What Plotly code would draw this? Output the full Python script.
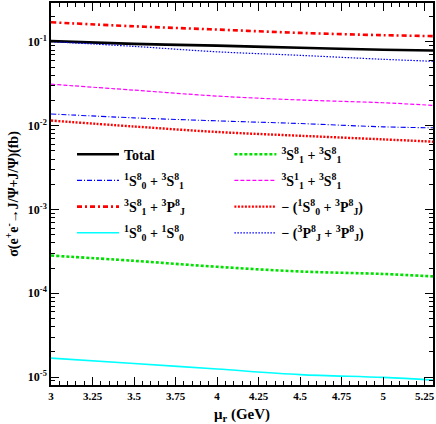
import plotly.graph_objects as go

# renormalization scale mu_r (GeV)
mu = [3.0, 3.5, 4.0, 4.5, 5.0, 5.3]

# cross sections (fb)
total = [0.1022, 0.0949, 0.0904, 0.0851, 0.0806, 0.0790]
s1s0_3s1 = [0.01383, 0.01241, 0.01143, 0.01062, 0.0097, 0.00944]
s3s1_3pj = [0.1718, 0.1538, 0.1406, 0.1282, 0.1204, 0.1175]
s1s0_1s0 = [1.68e-5, 1.45e-5, 1.245e-5, 1.07e-5, 9.9e-6, 9.2e-6]
s3s1_3s1 = [2.82e-4, 2.44e-4, 2.07e-4, 1.82e-4, 1.70e-4, 1.59e-4]
s3s1c1_3s1 = [0.0313, 0.0266, 0.0226, 0.0203, 0.0188, 0.0175]
m_1s0_3pj = [0.01153, 0.00979, 0.00842, 0.00759, 0.00687, 0.00645]
m_3pj_3pj = [0.1008, 0.0885, 0.0763, 0.0692, 0.0621, 0.0588]

x_ticks = [3, 3.25, 3.5, 3.75, 4, 4.25, 4.5, 4.75, 5, 5.25]
x_labels = ["3", "3.25", "3.5", "3.75", "4", "4.25", "4.5", "4.75", "5", "5.25"]
y_ticks = [1e-5, 1e-4, 1e-3, 1e-2, 1e-1]
y_labels = ["10<sup>-5</sup>", "10<sup>-4</sup>", "10<sup>-3</sup>", "10<sup>-2</sup>", "10<sup>-1</sup>"]
y_minor = [k * 10.0 ** e for e in range(-6, 0) for k in range(2, 10)]

# (name, values, colour, width, dash, legend column)
series = [
    ("Total", total, "black", 2.6, "solid", "legend"),
    ("<sup>1</sup>S<sup>8</sup><sub>0</sub> + <sup>3</sup>S<sup>8</sup><sub>1</sub>", s1s0_3s1, "blue", 1.1, "5px,2px,1px,2px", "legend"),
    ("<sup>3</sup>S<sup>8</sup><sub>1</sub> + <sup>3</sup>P<sup>8</sup><sub>J</sub>", s3s1_3pj, "red", 2.6, "5px,3px,2px,3px", "legend"),
    ("<sup>1</sup>S<sup>8</sup><sub>0</sub> + <sup>1</sup>S<sup>8</sup><sub>0</sub>", s1s0_1s0, "cyan", 1.6, "solid", "legend"),
    ("<sup>3</sup>S<sup>8</sup><sub>1</sub> + <sup>3</sup>S<sup>8</sup><sub>1</sub>", s3s1_3s1, "#00e000", 2.6, "3px,2px", "legend2"),
    ("<sup>3</sup>S<sup>1</sup><sub>1</sub> + <sup>3</sup>S<sup>8</sup><sub>1</sub>", s3s1c1_3s1, "magenta", 1.2, "4px,2px", "legend2"),
    ("\u2212 (<sup>1</sup>S<sup>8</sup><sub>0</sub> + <sup>3</sup>P<sup>8</sup><sub>J</sub>)", m_1s0_3pj, "red", 2.4, "2px,1.5px", "legend2"),
    ("\u2212 (<sup>3</sup>P<sup>8</sup><sub>J</sub> + <sup>3</sup>P<sup>8</sup><sub>J</sub>)", m_3pj_3pj, "blue", 1.2, "1.5px,1.5px", "legend2"),
]

fig = go.Figure()
for i, (name, vals, color, width, dash, leg) in enumerate(series):
    fig.add_trace(go.Scatter(x=mu, y=vals, mode="lines", name=name, legend=leg,
                             legendgroup="g%d" % i,
                             line=dict(color=color, width=width, dash=dash, shape="spline")))

leg_font = dict(family="Liberation Serif", size=14, color="black", weight="bold")
leg_common = dict(yanchor="top", xanchor="left", font=leg_font, bgcolor="rgba(0,0,0,0)",
                  tracegroupgap=5, itemwidth=42, orientation="v")

fig.update_layout(
    width=436, height=424,
    margin=dict(l=51, r=1, t=1, b=39),
    plot_bgcolor="white", paper_bgcolor="white",
    font=dict(family="Liberation Serif", size=12, color="black"),
    showlegend=True,
    legend=dict(x=0.055, y=0.645, **leg_common),
    legend2=dict(x=0.467, y=0.645, **leg_common),
    xaxis=dict(range=[3, 5.3], tickmode="array", tickvals=x_ticks, ticktext=x_labels,
               ticks="inside", ticklen=8, tickwidth=1, tickcolor="black",
               mirror="allticks", showline=True, linecolor="black", linewidth=1.5,
               showgrid=False, zeroline=False,
               tickfont=dict(family="Liberation Serif", size=11, color="black", weight="bold"),
               minor=dict(dtick=0.05, ticks="inside", ticklen=4, tickcolor="black", showgrid=False),
               title=dict(text="<b>\u03bc<sub>r</sub> (GeV)</b>", standoff=8,
                          font=dict(family="Liberation Serif", size=15, color="black"))),
    yaxis=dict(type="log", range=[-5.095, -0.535], tickmode="array", tickvals=y_ticks, ticktext=y_labels,
               ticks="inside", ticklen=8, tickwidth=1, tickcolor="black",
               mirror="allticks", showline=True, linecolor="black", linewidth=1.5,
               showgrid=False, zeroline=False,
               tickfont=dict(family="Liberation Serif", size=12, color="black", weight="bold"),
               minor=dict(tickmode="array", tickvals=y_minor, ticks="inside", ticklen=4,
                          tickcolor="black", showgrid=False),
               title=dict(text="<b>\u03c3(e<sup>+</sup>e<sup>-</sup>\u2192J/\u03a8+J/\u03a8)(fb)</b>", standoff=6,
                          font=dict(family="Liberation Serif", size=14, color="black"))),
)

fig.write_html("out.html", config={"displayModeBar": False},
               post_script="document.body.style.margin='0px';")
